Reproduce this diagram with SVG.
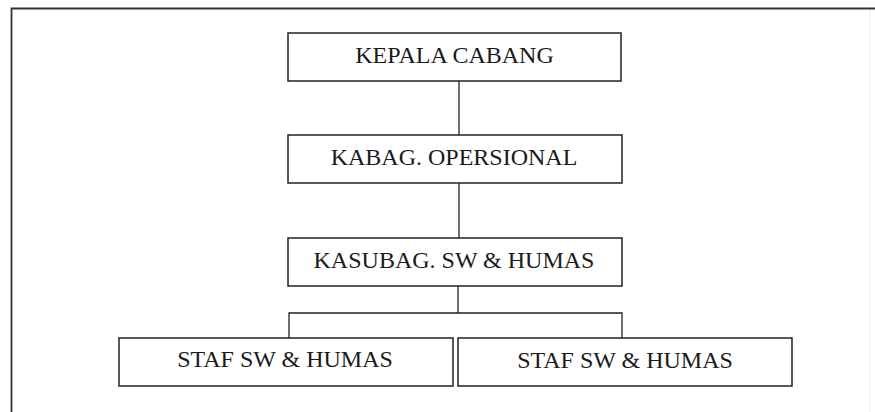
<svg xmlns="http://www.w3.org/2000/svg" width="875" height="412" viewBox="0 0 875 412">
<style>
.box{fill:#fff;stroke:#222;stroke-width:1.5}
.lbl{font-family:"Liberation Serif","Times New Roman",serif;font-size:24px;fill:#1a1a1a;text-anchor:middle}
.con{fill:none;stroke:#222;stroke-width:1.3}
.frame{fill:none;stroke:#333;stroke-width:1.8}
</style>
<rect width="875" height="412" fill="#fff"/>
<g id="frame">
<path class="frame" d="M11.5,412 V8.5 H875"/>
<line x1="870" y1="10" x2="870" y2="412" stroke="#ececec" stroke-width="1"/>
</g>
<g id="connectors">
<line class="con" x1="459" y1="81" x2="459" y2="135"/>
<line class="con" x1="459" y1="183" x2="459" y2="238"/>
<line class="con" x1="458" y1="286" x2="458" y2="313"/>
<path class="con" d="M289,338 V313 H622 V338"/>
</g>
<g id="kepala-cabang">
<rect class="box" x="288" y="33" width="333" height="48"/>
<text class="lbl" x="454.5" y="63">KEPALA CABANG</text>
</g>
<g id="kabag-opersional">
<rect class="box" x="288" y="135" width="334" height="48"/>
<text class="lbl" x="454" y="165">KABAG. OPERSIONAL</text>
</g>
<g id="kasubag-sw-humas">
<rect class="box" x="288" y="238" width="334" height="48"/>
<text class="lbl" x="454" y="268">KASUBAG. SW &amp; HUMAS</text>
</g>
<g id="staf-1">
<rect class="box" x="119" y="338" width="334" height="48"/>
<text class="lbl" x="285" y="367">STAF SW &amp; HUMAS</text>
</g>
<g id="staf-2">
<rect class="box" x="458" y="338" width="334" height="48"/>
<text class="lbl" x="625" y="368">STAF SW &amp; HUMAS</text>
</g>
</svg>
